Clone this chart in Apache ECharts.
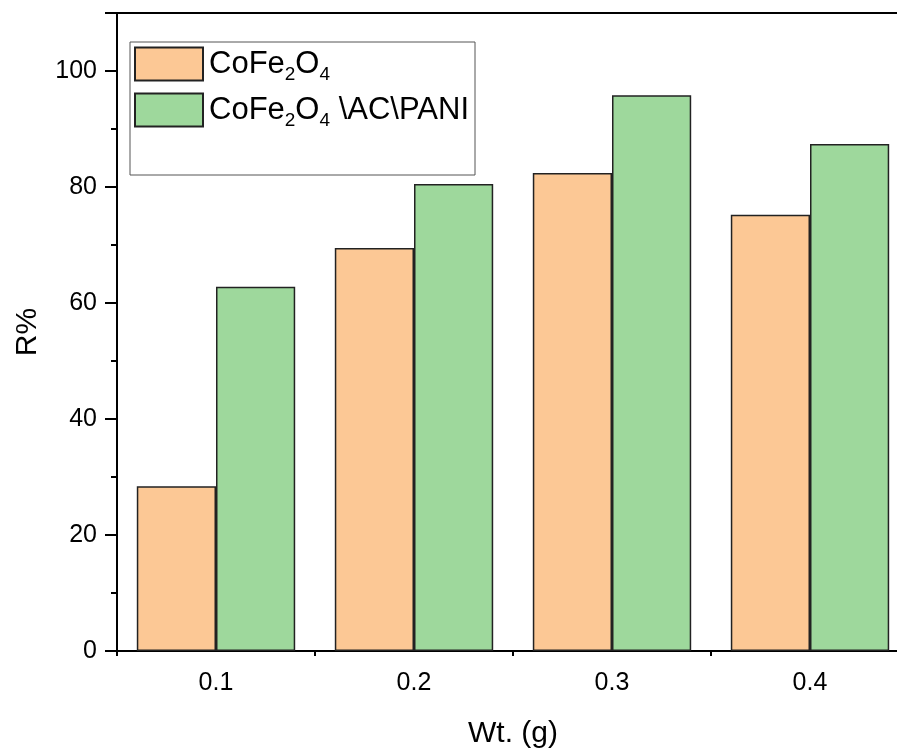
<!DOCTYPE html>
<html><head><meta charset="utf-8">
<script src="https://cdn.jsdelivr.net/npm/echarts@6/dist/echarts.min.js"></script>
<style>html,body{margin:0;padding:0;background:#fff;overflow:hidden}#c{width:910px;height:751px}</style>
</head><body><div id="c"></div>
<script>
const categories = ['0.1', '0.2', '0.3', '0.4'];
const seriesNames = ['CoFe2O4', 'CoFe2O4 \\AC\\PANI'];
const cofe2o4 = [28.4, 69.5, 82.4, 75.2];
const cofe2o4AcPani = [62.8, 80.5, 95.8, 87.4];
const yTicks = [0, 20, 40, 60, 80, 100];

const FONT = '"Liberation Sans", Arial, sans-serif';
const chart = echarts.init(document.getElementById('c'), null, {renderer: 'canvas'});
const legendRich = {
  m: {fontSize: 31, fontFamily: FONT, color: '#000', lineHeight: 32},
  s: {fontSize: 19, fontFamily: FONT, color: '#000', lineHeight: 18, padding: [22, 0, 0, 0]}
};
chart.setOption({
  backgroundColor: '#fff',
  animation: false,
  grid: {left: 117, top: 13, width: 792, height: 638, outerBoundsMode: 'none', containLabel: false,
    show: true, borderColor: '#000', borderWidth: 2, backgroundColor: 'transparent'},
  legend: {
    orient: 'vertical', left: 130, top: 42,
    itemWidth: 68, itemHeight: 33, itemGap: 5,
    padding: [1.5, 6, 44.5, 4],
    borderColor: '#555', borderWidth: 1,
    icon: 'rect',
    data: seriesNames,
    formatter: function (n) {
      return n === seriesNames[0] ? '{m|CoFe}{s|2}{m|O}{s|4}' : '{m|CoFe}{s|2}{m|O}{s|4}{m| \\AC\\PANI}';
    },
    textStyle: {rich: legendRich, padding: [0, 0, 0, 1]}
  },
  xAxis: [{
    type: 'category', data: categories, gridIndex: 0, position: 'bottom',
    name: 'Wt. (g)', nameLocation: 'middle', nameGap: 68,
    nameTextStyle: {fontSize: 30, fontFamily: FONT, color: '#000'},
    axisLine: {lineStyle: {color: '#000', width: 2}},
    axisTick: {alignWithLabel: true, length: 11, lineStyle: {color: '#000', width: 2}},
    axisLabel: {fontSize: 25, fontFamily: FONT, color: '#000', margin: 20},
    splitLine: {show: false}
  }, {
    type: 'category', data: categories, gridIndex: 0, position: 'bottom',
    axisLine: {show: false},
    axisTick: {show: true, length: 5, lineStyle: {color: '#000', width: 2}},
    axisLabel: {show: false}, splitLine: {show: false}
  }],
  yAxis: [{
    type: 'value', min: 0, max: 110, interval: 20,
    name: 'R%', nameLocation: 'middle', nameGap: 74,
    nameTextStyle: {fontSize: 30, fontFamily: FONT, color: '#000'},
    axisLine: {show: true, lineStyle: {color: '#000', width: 2}},
    axisTick: {show: true, length: 12, lineStyle: {color: '#000', width: 2}},
    axisLabel: {fontSize: 25, fontFamily: FONT, color: '#000', margin: 20,
      formatter: function (v) { return yTicks.indexOf(v) >= 0 ? String(v) : ''; }},
    splitLine: {show: false}
  }, {
    type: 'value', min: 0, max: 110, interval: 10, position: 'left',
    axisLine: {show: false},
    axisTick: {show: true, length: 6, lineStyle: {color: '#000', width: 2}},
    axisLabel: {show: false}, splitLine: {show: false}
  }],
  series: [{
    name: seriesNames[0], type: 'bar', xAxisIndex: 0, yAxisIndex: 0,
    data: cofe2o4, barWidth: '40%', barGap: '0%',
    itemStyle: {color: '#FCC895', borderColor: '#222', borderWidth: 1.5}
  }, {
    name: seriesNames[1], type: 'bar', xAxisIndex: 0, yAxisIndex: 0,
    data: cofe2o4AcPani, barWidth: '40%', barGap: '0%',
    itemStyle: {color: '#9ED89C', borderColor: '#222', borderWidth: 1.5}
  }]
});
</script></body></html>
